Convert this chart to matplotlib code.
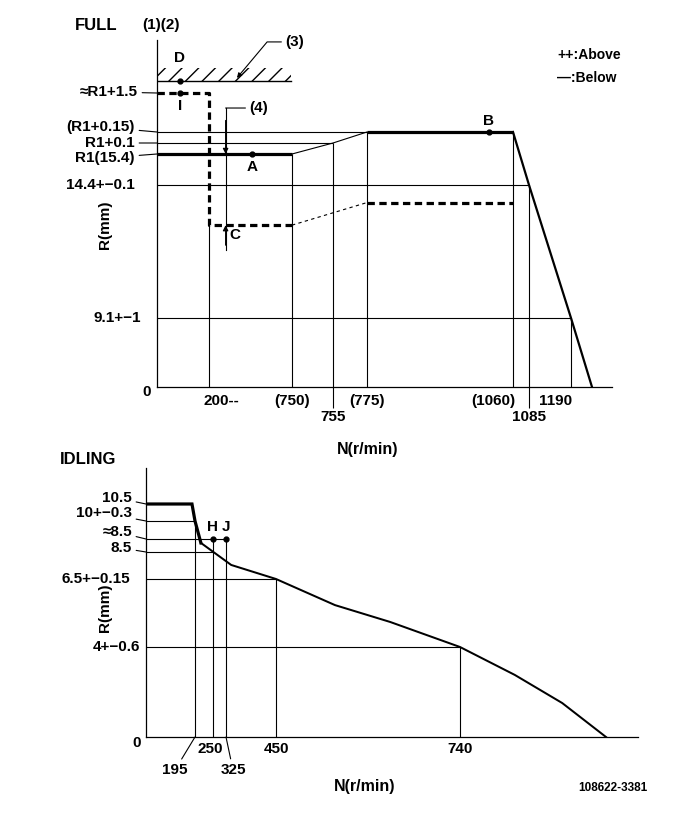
import numpy as np
import matplotlib.pyplot as plt

plt.rcParams['font.family'] = ['Liberation Sans', 'DejaVu Sans']
plt.rcParams['font.weight'] = 'bold'
plt.rcParams['font.size'] = 11
plt.rcParams['hatch.linewidth'] = 1.0

# ---------------- FULL load: N (r/min) vs rack R (mm) ----------------
full_n = [0, 750, 755, 775, 1060, 1085, 1190, 1230]
full_r = [15.4, 15.4, 15.5, 15.55, 15.55, 14.4, 9.1, 0.0]
below_n = [0, 200, 200, 750, 775, 1060]
below_r = [16.9, 16.9, 12.8, 12.8, 13.7, 13.7]
stop_r = 17.4
stop_top_r = 17.65
stop_end_n = 745
full_vref_n = [200, 750, 755, 775, 1060, 1085, 1190]
full_vref_r = [12.8, 15.4, 15.5, 15.55, 15.55, 14.4, 9.1]
full_tick_text = ['200--', '(750)', '755', '(775)', '(1060)', '1085', '1190']
full_href_r = [15.55, 15.5, 14.4, 9.1]
full_href_n = [1060, 755, 1085, 1190]
full_level_r = [16.9, 15.55, 15.5, 15.4, 14.4, 9.1]
full_level_text = ['\u2248R1+1.5', '(R1+0.15)', 'R1+0.1', 'R1(15.4)',
                   '14.4+\u22120.1', '9.1+\u22121']
full_pts_n = [88, 88, 485, 1013]
full_pts_r = [17.4, 16.9, 15.4, 15.55]
full_pts_text = ['D', 'I', 'A', 'B']
check_n = 310
check_r = [11.8, 16.38]

# ---------------- IDLING ----------------
idle_n = [0, 183, 195, 213, 338, 450, 543, 630, 740, 800, 852, 900]
idle_r = [10.5, 10.5, 10.0, 8.57, 7.54, 6.5, 5.54, 4.92, 4.0, 2.76, 1.51, 0.0]
idle_vref_n = [195, 250, 325, 450, 740]
idle_vref_r = [10.0, 8.6, 8.6, 6.5, 4.0]
idle_tick_text = ['195', '250', '325', '450', '740']
idle_href_r = [10.0, 8.6, 8.5, 6.5, 4.0]
idle_href_n = [195, 325, 250, 450, 740]
idle_level_r = [10.5, 10.0, 8.6, 8.5, 6.5, 4.0]
idle_level_text = ['10.5', '10+\u22120.3', '\u22488.5', '8.5', '6.5+\u22120.15', '4+\u22120.6']
idle_pts_n = [250, 325]
idle_pts_r = [8.6, 8.6]
idle_pts_text = ['H', 'J']

# ---------------- layout (schematic, not to scale) ----------------
W, H = 685, 819
full_xk = ([-1000, 0, 200, 750, 755, 775, 1060, 1085, 1190, 1230, 1270, 5000],
           [-260, 0, 52, 135, 176, 210, 356, 372, 414, 435, 455, 2300])
full_yk = ([-100, 0, 9.1, 14.4, 15.4, 15.5, 15.55, 16.9, 17.4, 18.2, 100],
           [-760, 0, 69, 202, 233, 244, 255, 294, 306, 347, 4500])
idle_xk = ([-1000, 0, 195, 250, 325, 450, 740, 900, 935, 5000],
           [-250, 0, 49, 67, 80, 130, 314, 460, 492, 4500])
idle_yk = ([-100, 0, 4, 6.5, 8.5, 8.6, 10, 10.5, 11.6, 100],
           [-2250, 0, 90, 158, 185, 198, 216, 233, 269, 3000])
full_tick_dx = [12, 0, 0, 0, -20, 0, -15]
full_tick_row = [0, 0, 1, 0, 0, 1, 0]
full_level_dx = [-19, -22, -22, -22, -22, -16]
full_level_dy = [1, 5, 0, -4, 0, 0]
full_level_lead = [True, True, True, True, False, False]
idle_tick_dx = [-20, -3, 7, 0, 0]
idle_tick_row = [1, 0, 1, 0, 0]
idle_level_dx = [-14, -14, -14, -14, -16, -6]
idle_level_dy = [6, 8, 7, 4, 0, 0]
idle_level_lead = [True, True, True, True, False, False]

THICK, MED, THIN = 2.3, 1.6, 0.8


def knot_scale(knots):
    v = np.asarray(knots[0], float)
    p = np.asarray(knots[1], float)
    return (lambda a: np.interp(a, v, p), lambda a: np.interp(a, p, v))


def make_axes(fig, x0, y0, w, h, xk, yk, xmax, ymax):
    ax = fig.add_axes([x0 / W, 1 - y0 / H, w / W, h / H])
    ax.set_xscale('function', functions=knot_scale(xk))
    ax.set_yscale('function', functions=knot_scale(yk))
    ax.set_xlim(0, xmax)
    ax.set_ylim(0, ymax)
    ax.set_xticks([])
    ax.set_yticks([])
    ax.minorticks_off()
    for s in ['top', 'right']:
        ax.spines[s].set_visible(False)
    for s in ['left', 'bottom']:
        ax.spines[s].set_linewidth(0.9)
    ax.patch.set_alpha(0)
    return ax


def level_labels(ax, levels, texts, dxs, dys, leads):
    for r, t, dx, dy, lead in zip(levels, texts, dxs, dys, leads):
        ap = dict(arrowstyle='-', lw=THIN, color='k', shrinkA=1, shrinkB=0) if lead else None
        ax.annotate(t, xy=(0, r), xytext=(dx, dy), textcoords='offset pixels',
                    ha='right', va='center', arrowprops=ap, annotation_clip=False)


fig = plt.figure(figsize=(W / 100, H / 100), dpi=100)

# ======================= FULL =======================
ax = make_axes(fig, 157, 387, 455, 347, full_xk, full_yk, 1270, 18.2)

ax.hlines(full_href_r, 0, full_href_n, color='k', lw=THIN)
ax.vlines(full_vref_n, 0, full_vref_r, color='k', lw=THIN)
ax.vlines([755, 1085], -21 / 347, 0, color='k', lw=THIN,
          transform=ax.get_xaxis_transform(), clip_on=False)

ax.plot(full_n[0:2], full_r[0:2], color='k', lw=THICK, solid_capstyle='butt')
ax.plot(full_n[1:4], full_r[1:4], color='k', lw=THIN)
ax.plot(full_n[3:5], full_r[3:5], color='k', lw=THICK, solid_capstyle='butt')
ax.plot(full_n[4:], full_r[4:], color='k', lw=MED)

ax.plot(below_n[0:4], below_r[0:4], color='k', lw=THICK, ls=(0, (2.3, 1.4)))
ax.plot(below_n[3:5], below_r[3:5], color='k', lw=THIN, ls=(0, (3, 3)))
ax.plot(below_n[4:], below_r[4:], color='k', lw=THICK, ls=(0, (2.3, 1.4)))

ax.plot([0, stop_end_n], [stop_r, stop_r], color='k', lw=1.0)
ax.fill_between([0, stop_end_n], stop_r, stop_top_r, hatch='//',
                facecolor='none', edgecolor='k', linewidth=0)

ax.plot(full_pts_n, full_pts_r, 'o', color='k', ms=3.5)
pt_off = [(0, 23), (0, -13), (0, -13), (0, 11)]
for n, r, t, off in zip(full_pts_n, full_pts_r, full_pts_text, pt_off):
    ax.annotate(t, xy=(n, r), xytext=off, textcoords='offset pixels',
                ha='center', va='center')

# check arrows (4) and C
ax.plot([check_n, check_n], check_r, color='k', lw=THIN)
ax.annotate('', xy=(check_n, full_r[0]), xytext=(check_n, 15.95),
            arrowprops=dict(arrowstyle='-|>', mutation_scale=8, lw=THIN,
                            color='k', shrinkA=0, shrinkB=0))
ax.annotate('', xy=(check_n, below_r[2]), xytext=(check_n, 12.0),
            arrowprops=dict(arrowstyle='-|>', mutation_scale=8, lw=THIN,
                            color='k', shrinkA=0, shrinkB=0))
ax.annotate('(4)', xy=(check_n, check_r[1]), xytext=(24, 0), textcoords='offset pixels',
            ha='left', va='center',
            arrowprops=dict(arrowstyle='-', lw=THIN, color='k', shrinkA=1, shrinkB=0))
ax.annotate('C', xy=(check_n, below_r[2]), xytext=(9, -10), textcoords='offset pixels',
            ha='center', va='center')
ax.annotate('(3)', xy=(385, 17.46), xytext=(58, 36), textcoords='offset pixels',
            ha='center', va='center',
            arrowprops=dict(arrowstyle='-|>', mutation_scale=7, lw=THIN, color='k',
                            shrinkA=1, shrinkB=0,
                            connectionstyle='angle,angleA=0,angleB=50,rad=0'))

level_labels(ax, full_level_r, full_level_text, full_level_dx, full_level_dy, full_level_lead)
for n, t, dx, row in zip(full_vref_n, full_tick_text, full_tick_dx, full_tick_row):
    ax.annotate(t, xy=(n, 0), xytext=(dx, -14 - 16 * row), textcoords='offset pixels',
                ha='center', va='center', annotation_clip=False)
ax.annotate('0', xy=(0, 0), xytext=(-10, -5), textcoords='offset pixels',
            ha='center', va='center', annotation_clip=False)

fig.text(368 / W, 1 - 449 / H, 'N(r/min)', ha='center', va='center', fontsize=11.5)
fig.text(105 / W, 1 - 225 / H, 'R(mm)', ha='center', va='center', rotation=90)
fig.text(75 / W, 1 - 25 / H, 'FULL', ha='left', va='center', fontsize=12)
fig.text(142 / W, 1 - 25 / H, '(1)(2)', ha='left', va='center')
fig.text(557 / W, 1 - 55 / H, '++:Above', ha='left', va='center', fontsize=10)
fig.text(557 / W, 1 - 78 / H, '\u2014:Below', ha='left', va='center', fontsize=10)

# ======================= IDLING =======================
bx = make_axes(fig, 146, 737, 492, 269, idle_xk, idle_yk, 935, 11.6)

bx.hlines(idle_href_r, 0, idle_href_n, color='k', lw=THIN)
bx.vlines(idle_vref_n, 0, idle_vref_r, color='k', lw=THIN)
bx.plot(idle_n[0:4], idle_r[0:4], color='k', lw=THICK, solid_joinstyle='miter')
bx.plot(idle_n[3:], idle_r[3:], color='k', lw=MED * 0.9)

bx.plot(idle_pts_n, idle_pts_r, 'o', color='k', ms=3.5)
for n, r, t in zip(idle_pts_n, idle_pts_r, idle_pts_text):
    bx.annotate(t, xy=(n, r), xytext=(0, 12), textcoords='offset pixels',
                ha='center', va='center')

level_labels(bx, idle_level_r, idle_level_text, idle_level_dx, idle_level_dy, idle_level_lead)
for n, t, dx, row in zip(idle_vref_n, idle_tick_text, idle_tick_dx, idle_tick_row):
    ap = dict(arrowstyle='-', lw=THIN, color='k', shrinkA=1, shrinkB=0) if row else None
    bx.annotate(t, xy=(n, 0), xytext=(dx, -12 - 21 * row), textcoords='offset pixels',
                ha='center', va='center', arrowprops=ap, annotation_clip=False)
bx.annotate('0', xy=(0, 0), xytext=(-9, -6), textcoords='offset pixels',
            ha='center', va='center', annotation_clip=False)

fig.text(365 / W, 1 - 787 / H, 'N(r/min)', ha='center', va='center', fontsize=11.5)
fig.text(105 / W, 1 - 608 / H, 'R(mm)', ha='center', va='center', rotation=90)
fig.text(60 / W, 1 - 459 / H, 'IDLING', ha='left', va='center', fontsize=12)
fig.text(613 / W, 1 - 788 / H, '108622-3381', ha='center', va='center', fontsize=8.5)

fig.savefig('out.png', dpi=100)
